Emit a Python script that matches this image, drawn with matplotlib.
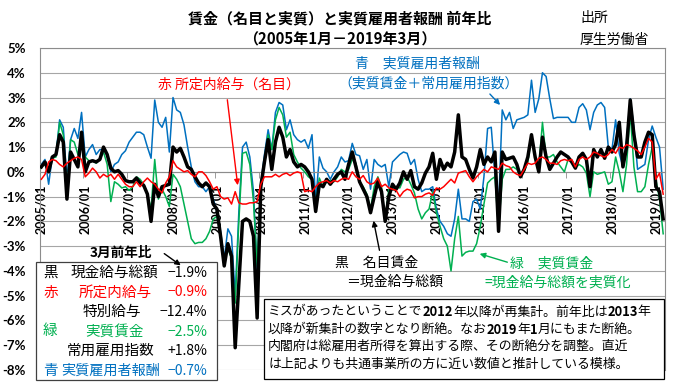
import numpy as np
import pandas as pd
import matplotlib
matplotlib.use('Agg')
import matplotlib.pyplot as plt
from matplotlib.patches import Rectangle, FancyArrowPatch

plt.rcParams['font.family'] = ['Noto Sans CJK JP', 'DejaVu Sans']

# %% ============================ Data =========================================
months = pd.date_range('2005-01-01', '2019-03-01', freq='MS')
year_labels = [d.strftime('%Y/%m') for d in months if d.month == 1]

# 黒 現金給与総額 (nominal), y/y %
black = [
    0.2, 0.4, 0.0, 0.6, 0.7, 1.5, 1.2, -1.1, 0.8, 0.5, 0.2, 1.6,            # 2005
    0.0, 0.4, 0.45, 0.4, 0.5, 1.0, 0.7, 0.15, 0.0, 0.05, -0.1, -0.35,       # 2006
    -0.4, -0.4, -0.25, -0.45, -0.55, -0.9, -2.0, -0.5, -1.0, -0.6, -0.55, -0.5,
    1.0, 0.8, 0.95, 0.6, 0.2, 0.1, -0.2, -0.45, -0.6, -0.45, -0.6, -1.3,    # 2008
    -1.5, -2.6, -3.8, -2.9, -3.4, -7.1, -4.5, -2.0, -1.9, -2.0, -2.6, -5.9,
    -0.6, 0.4, 1.3, 0.1, 1.2, 1.8, 1.4, 0.6, 0.9, 0.4, 0.2, 0.3,            # 2010
    0.2, 0.0, -0.3, -1.6, -0.5, -0.6, -0.3, -0.5, -0.3, -0.1, 0.0, -0.3,
    0.3, 0.8, 0.2, -0.4, -0.7, -1.0, -1.65, -1.0, -0.4, -0.8, -2.0, -1.0,   # 2012
    -0.5, -0.7, -0.45, 0.0, -0.3, 0.05, -0.6, -0.7, -0.45, -0.05, 0.2, 0.75,
    -0.3, 0.5, 0.1, 0.35, 0.2, 0.8, 2.3, 0.6, 0.5, 0.1, -0.25, 0.2,         # 2014
    0.9, 0.3, 0.6, 0.4, 0.8, -2.4, 0.8, 0.5, 0.55, 0.6, 0.3, -0.2,
    0.1, 0.6, 1.5, 0.6, 0.0, 1.4, 0.6, 0.1, 0.35, 0.6, 0.8, 0.7,            # 2016
    0.6, 0.4, 0.15, 0.6, 0.75, 0.5, -0.6, 0.9, 0.6, 0.9, 0.55, 1.0,
    0.8, 1.1, 2.0, 0.2, 1.0, 2.9, 1.5, 0.6, 0.6, 1.2, 1.6, 1.5,             # 2018
    -0.6, -0.8, -1.9,
]

# 赤 所定内給与 (nominal)
red = [
    -0.3, -0.1, 0.4, 0.5, 0.45, 0.3, 0.2, 0.35, 0.45, 0.55, 0.6, 0.5,
    -0.2, -0.05, 0.15, 0.0, -0.25, -0.1, -0.2, -0.1, -0.3, -0.1, -0.3, -0.5,
    -0.6, -0.6, -0.4, -0.6, -0.4, -0.25, -0.4, -0.5, -0.7, -0.85, -0.45, -0.2,
    0.45, 0.2, 0.1, 0.0, 0.05, -0.1, -0.2, 0.0, 0.0, -0.15, -0.4, -0.7,
    -0.6, -1.0, -1.1, -1.05, -1.3, -0.8, -1.25, -1.3, -1.3, -1.25, -1.25, -1.2,
    -0.5, -0.2, -0.2, -0.2, -0.1, -0.2, -0.1, -0.05, -0.15, -0.05, 0.0, -0.05,
    -0.8, -0.75, -0.8, -0.6, -0.45, -0.4, -0.35, -0.45, -0.35, -0.4, -0.3, -0.25,
    -0.3, 0.0, -0.2, -0.3, -0.15, -0.4, -0.5, -0.45, -0.25, -0.6, -0.5, -0.65,
    -0.7, -0.75, -1.0, -0.8, -0.7, -0.75, -1.05, -1.0, -1.0, -0.9, -0.85, -0.95,
    -0.65, -0.7, -0.6, -0.45, -0.3, -0.45, -0.05, 0.0, 0.05, -0.2, -0.4, -0.2,
    -0.05, 0.1, 0.0, 0.2, 0.15, 0.1, 0.35, 0.25, 0.2, 0.0, -0.1, -0.15,
    0.1, 0.35, 0.3, 0.35, 0.55, 0.6, 0.5, 0.35, 0.35, 0.3, 0.45, 0.5,
    0.45, 0.5, 0.2, 0.5, 0.6, 0.5, 0.6, 0.8, 0.75, 0.65, 0.6, 0.7,
    0.9, 0.75, 1.0, 0.95, 1.1, 1.05, 0.95, 0.85, 0.7, 1.0, 1.35, 1.2,
    -0.3, -0.05, -0.9,
]

# 緑 実質賃金
green = [
    0.15, 0.4, 0.0, 0.55, 0.6, 2.0, 1.5, -0.9, 1.3, 1.2, 0.7, 1.3,
    0.6, 0.45, 0.45, 0.35, 0.5, 0.8, 0.3, -1.2, -0.4, -0.5, -0.65, -0.6,
    -0.75, -0.6, -0.2, -0.3, -0.5, -0.9, -1.5, 0.5, -1.1, -0.7, -1.0, -1.4,
    -0.1, -0.3, -0.6, -1.3, -2.0, -2.7, -2.9, -2.85, -2.85, -2.7, -2.4, -1.9,
    -1.8, -2.6, -3.6, -3.1, -3.5, -5.3, -2.0, 0.75, 0.8, 0.3, -1.2, -3.8,
    -0.5, 0.5, 1.5, 0.9, 2.1, 2.6, 2.3, 1.4, 1.6, 0.7, 0.4, 0.15,
    0.0, -0.2, -0.3, -1.3, -0.25, -0.6, -0.4, -0.35, -0.4, -0.2, 0.1, 0.0,
    0.1, 0.5, 0.35, -0.4, -0.6, -0.9, -1.5, -0.6, -0.2, -0.6, -1.9, -0.7,
    -0.7, -0.6, -0.65, -0.3, -0.2, -0.5, -0.85, -1.5, -1.9, -1.65, -1.5, -0.8,
    -1.65, -2.2, -2.7, -3.0, -4.0, -2.7, -1.8, -3.4, -3.25, -3.2, -3.2, -2.9,
    -2.2, -1.3, -0.45, -0.3, -0.2, -2.3, -0.3, 0.1, 0.1, 0.2, 0.1, -0.15,
    0.0, 0.4, 1.4, 0.6, 0.2, 2.0, 0.6, 0.6, 0.7, 0.4, 0.2, 0.0,
    0.5, 0.4, 0.15, 0.3, 0.2, -0.05, -1.0, 0.0, -0.1, -0.05, 0.0, -0.5,
    -0.4, 0.6, 0.0, -0.8, 0.3, 2.4, 0.2, -0.8, -0.8, -0.6, 0.3, 1.0,
    -0.3, -1.1, -2.5,
]

# 青 実質雇用者報酬
blue = [
    0.3, 0.5, -0.5, 0.6, 0.7, 2.1, 1.8, -0.3, 1.3, 1.75, 1.35, 2.4,
    0.6, 0.9, 1.1, 0.7, 0.9, 0.9, 0.7, 0.0, 0.3, 0.4, 0.7, 0.85,
    1.2, 1.4, 1.6, 1.6, 1.5, 1.0, 0.55, 2.9, 2.0, 1.8, 2.2, 0.8,
    3.0, 2.5, 2.4, 1.9, 1.0, 0.2, -0.4, -0.6, -0.6, -0.8, -0.6, -1.1,
    -1.6, -2.4, -3.5, -2.3, -2.6, -5.0, -1.6, 1.0, 1.2, 0.6, -0.8, -4.0,
    -0.5, 0.7, 1.7, 0.9, 2.4, 2.8, 2.7, 1.7, 2.1, 1.5, 1.3, 1.2,
    1.3, 0.95, 1.5, -1.2, 0.6, 0.15, 0.0, -0.3, 0.0, 0.2, 0.6, 0.4,
    0.45, 1.15, 0.7, 0.65, 0.1, 0.5, -0.7, 0.5, 0.3, 0.2, 0.3, -0.6,
    0.4, 0.55, 0.7, 0.8, 0.75, 0.3, 0.5, -0.3, -0.8, -0.7, -0.7, -0.6,
    -1.5, -2.0, -2.2, -2.5, -2.6, -1.9, -0.7, -1.9, -1.9, -2.0, -1.2, -1.1,
    -1.5, -0.2, 1.75, 1.8, -0.1, -1.4, 2.5, 2.1, 2.4, 1.75, 2.1, 2.15,
    2.2, 2.3, 3.7, 2.4, 2.95, 4.0, 3.85, 2.95, 2.15, 2.2, 2.2, 2.2,
    2.2, 2.0, 2.0, 2.6, 2.75, 2.5, 1.7, 2.4, 2.7, 2.8, 2.6, 1.0,
    0.9, 2.1, 0.75, 0.2, 1.3, 2.95, 1.8, 0.1, 0.2, 0.3, 1.3, 1.85,
    1.4, 1.0, -0.7,
]

# March 2019 summary box
box_rows = [
    ('黒', '現金給与総額', '−1.9%', 'black'),
    ('赤', '所定内給与', '−0.9%', '#FF0000'),
    ('', '特別給与', '−12.4%', 'black'),
    ('緑', '実質賃金', '−2.5%', '#00B050'),
    ('', '常用雇用指数', '+1.8%', 'black'),
    ('青', '実質雇用者報酬', '−0.7%', '#0070C0'),
]

# %% ============================ Figure =======================================
W, H = 680, 382
fig = plt.figure(figsize=(W / 100, H / 100), dpi=100)


def fx(px):
    return px / W


def fy(py):
    return 1 - py / H


ax = fig.add_axes([fx(39.5), fy(370), (665 - 39.5) / W, (370 - 48) / H])

x = np.arange(len(months))
ax.plot(x, blue, color='#0070C0', lw=1.1, zorder=2)
ax.plot(x, green, color='#00B050', lw=1.1, zorder=3)
ax.plot(x, black, color='black', lw=2.5, zorder=4)
ax.plot(x, red, color='#FF0000', lw=1.1, zorder=5)

ax.set_xlim(-0.5, len(months) - 0.5)
ax.set_ylim(-8, 5)
ax.set_yticks(np.arange(-8, 6))
ax.set_yticklabels([f'{v}%' for v in range(-8, 6)], fontweight='bold',
                   fontsize=9.5, family=['Lato', 'DejaVu Sans'])
ax.tick_params(axis='y', length=0, pad=10)
ax.yaxis.grid(True, color='#A6A6A6', lw=0.8)
ax.set_axisbelow(True)
for s in ax.spines.values():
    s.set_color('#8C8C8C')
    s.set_linewidth(0.8)
ax.spines['bottom'].set_position(('data', 0))

jan_idx = x[months.month == 1]
ax.set_xticks(jan_idx)
ax.set_xticklabels(year_labels, rotation=90, fontweight='bold', fontsize=9,
                   family=['Lato', 'DejaVu Sans'], va='top')
ax.tick_params(axis='x', which='major', length=0, pad=9)
ax.set_xticks(jan_idx - 0.5, minor=True)
ax.tick_params(axis='x', which='minor', length=4, color='#8C8C8C')

# %% ============================ Titles =======================================
fig.text(fx(340), fy(18), '賃金（名目と実質）と実質雇用者報酬 前年比',
         ha='center', va='center', fontsize=10.8, fontweight='bold')
fig.text(fx(340), fy(40), '（2005年1月－2019年3月）',
         ha='center', va='center', fontsize=10.8, fontweight='bold')
fig.text(fx(580), fy(18), '出所', ha='left', va='center', fontsize=10)
fig.text(fx(580), fy(40), '厚生労働省', ha='left', va='center', fontsize=10)


def arrow(p0, p1, color):
    fig.add_artist(FancyArrowPatch((fx(p0[0]), fy(p0[1])), (fx(p1[0]), fy(p1[1])),
                                   transform=fig.transFigure, arrowstyle='-|>',
                                   mutation_scale=8, color=color, lw=1.0,
                                   zorder=6))


# annotations
fig.text(fx(158), fy(85), '赤 所定内給与（名目）', color='#FF0000',
         ha='left', va='center', fontsize=10)
arrow((227, 97), (238, 188), '#FF0000')

fig.text(fx(355), fy(63), '青　実質雇用者報酬', color='#0070C0',
         ha='left', va='center', fontsize=10)
fig.text(fx(338), fy(83), '（実質賃金＋常用雇用指数）', color='#0070C0',
         ha='left', va='center', fontsize=10)
arrow((488, 92), (502, 107), '#0070C0')

fig.text(fx(335), fy(263), '黒　名目賃金', color='black',
         ha='left', va='center', fontsize=10)
fig.text(fx(346), fy(282), '＝現金給与総額', color='black',
         ha='left', va='center', fontsize=10)
arrow((380, 253), (373, 218), 'black')

fig.text(fx(510), fy(263), '緑　実質賃金', color='#00B050',
         ha='left', va='center', fontsize=10)
fig.text(fx(484), fy(282), '=現金給与総額を実質化', color='#00B050',
         ha='left', va='center', fontsize=10)
arrow((510, 263), (477, 253), '#00B050')

# %% ======================= March summary box =================================
fig.add_artist(Rectangle((fx(36), fy(380)), (217 - 36) / W, (380 - 262) / H,
                         transform=fig.transFigure, fc='white', ec='#404040',
                         lw=0.9, zorder=5))
fig.text(fx(90), fy(253), '3月前年比', ha='left', va='center', fontsize=9.8,
         fontweight='bold', zorder=7)
arrow((162, 252), (183, 267), 'black')

row_y = [273, 292.5, 312, 331.5, 351, 371]
item_x = [71, 79, 83, 85, 67, 61]
for (tag, item, val, col), yy, ix in zip(box_rows, row_y, item_x):
    if tag:
        fig.text(fx(43), fy(yy), tag, color=col, ha='left', va='center',
                 fontsize=10.5, zorder=7)
    fig.text(fx(ix), fy(yy), item, color=col, ha='left', va='center',
             fontsize=10.5 if ix != 61 else 10.2, zorder=7)
    fig.text(fx(207), fy(yy), val, color=col, ha='right', va='center',
             fontsize=10, zorder=7)

# %% ============================ Note box =====================================
fig.add_artist(Rectangle((fx(264), fy(379)), (664 - 264) / W, (379 - 299) / H,
                         transform=fig.transFigure, fc='white', ec='black',
                         lw=0.9, zorder=5))

note_lines = [
    [('ミスがあったということで', False), ('2012', True), ('年以降が再集計。前年比は', False),
     ('2013', True), ('年', False)],
    [('以降が新集計の数字となり断絶。なお', False), ('2019', True), ('年', False),
     ('1', True), ('月にもまた断絶。', False)],
    [('内閣府は総雇用者所得を算出する際、その断絶分を調整。直近', False)],
    [('は上記よりも共通事業所の方に近い数値と推計している模様。', False)],
]
renderer = fig.canvas.get_renderer()
for line, yy in zip(note_lines, [312, 329.5, 346.5, 364]):
    cur = 268
    for s, bold in line:
        t = fig.text(fx(cur), fy(yy), s, ha='left', va='center', fontsize=9.3,
                     fontweight='bold' if bold else 'normal', zorder=7)
        cur += t.get_window_extent(renderer).width

fig.savefig('out.png', dpi=100)
